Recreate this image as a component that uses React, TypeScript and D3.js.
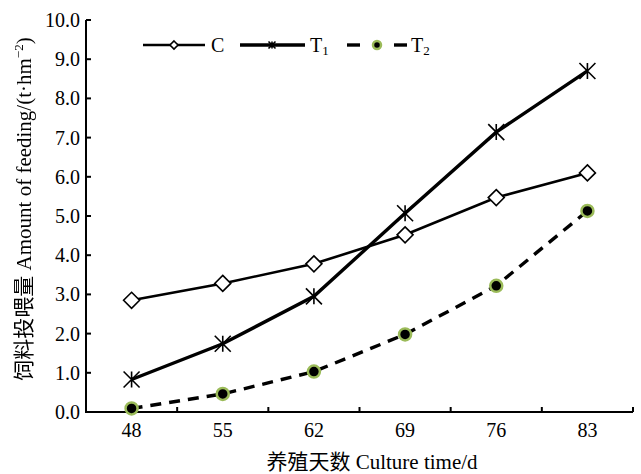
import * as d3 from "d3";

const days = ["48", "55", "62", "69", "76", "83"];
const cValues = [2.85, 3.28, 3.78, 4.52, 5.47, 6.1];
const t1Values = [0.83, 1.74, 2.95, 5.07, 7.14, 8.7];
const t2Values = [0.09, 0.46, 1.03, 1.98, 3.22, 5.13];
const yTicks = [0, 1, 2, 3, 4, 5, 6, 7, 8, 9, 10];

const width = 641;
const height = 474;
const left = 86;
const right = 633;
const top = 20;
const bottom = 412;
const font = "'Liberation Serif', 'Times New Roman', serif";
const cjk = "'Liberation Serif', 'Noto Sans CJK SC', serif";

function Diamond({ x, y, r }: { x: number; y: number; r: number }) {
  return (
    <path
      d={`M${x},${y - r}L${x + r},${y}L${x},${y + r}L${x - r},${y}Z`}
      fill="white"
      stroke="black"
      strokeWidth={1.6}
    />
  );
}

function Star({ x, y, r }: { x: number; y: number; r: number }) {
  return (
    <path
      d={`M${x - r},${y - r}L${x + r},${y + r}M${x - r},${y + r}L${x + r},${y - r}M${x},${y - r}L${x},${y + r}`}
      stroke="black"
      strokeWidth={1.6}
      fill="none"
    />
  );
}

function Dot({ x, y, r }: { x: number; y: number; r: number }) {
  return <circle cx={x} cy={y} r={r} fill="black" stroke="#9bbb59" strokeWidth={2.5} />;
}

export default function App() {
  const x = d3.scaleBand<string>().domain(days).range([left, right]).padding(0);
  const cx = (d: string) => (x(d) ?? 0) + x.bandwidth() / 2;
  const y = d3.scaleLinear().domain([0, 10]).range([bottom, top]);

  const line = d3
    .line<number>()
    .x((_, i) => cx(days[i]))
    .y((v) => y(v));

  const boundaries = [...days.map((d) => x(d) ?? 0), right];

  return (
    <svg
      width={width}
      height={height}
      style={{ position: "fixed", left: 0, top: 0, background: "white" }}
      fontFamily={font}
    >
      <defs>
        <filter id="gray">
          <feColorMatrix type="saturate" values="0" />
        </filter>
      </defs>

      {/* axes */}
      <g stroke="black" strokeWidth={2} fill="none">
        <path d={`M${left},${top}V${bottom}H${right}`} strokeWidth={2} />
        {yTicks.map((t) => (
          <line key={t} x1={left} x2={left + 5} y1={y(t)} y2={y(t)} />
        ))}
        {boundaries.slice(1).map((b, i) => (
          <line key={i} x1={b} x2={b} y1={bottom} y2={bottom - 5} />
        ))}
      </g>
      <g fontSize={20} fill="black">
        {yTicks.map((t) => (
          <text key={t} x={left - 6} y={y(t)} dy="0.35em" textAnchor="end">
            {t.toFixed(1)}
          </text>
        ))}
        {days.map((d) => (
          <text key={d} x={cx(d)} y={bottom + 25} textAnchor="middle">
            {d}
          </text>
        ))}
      </g>

      {/* axis titles */}
      <text x={372} y={469} fontSize={21} textAnchor="middle" fontFamily={cjk}>
        养殖天数 Culture time/d
      </text>
      <g filter="url(#gray)">
        <text
          transform={`translate(31,209) rotate(-90)`}
          fontSize={21}
          textAnchor="middle"
          fontFamily={cjk}
          fill="black"
        >
          饲料投喂量 Amount of feeding/(t·hm
          <tspan fontSize={13} dy={-8}>
            −2
          </tspan>
          <tspan dy={8}>)</tspan>
        </text>
      </g>

      {/* series */}
      <path d={line(cValues) ?? ""} fill="none" stroke="black" strokeWidth={2.6} />
      <path d={line(t1Values) ?? ""} fill="none" stroke="black" strokeWidth={3.4} />
      <path
        d={line(t2Values) ?? ""}
        fill="none"
        stroke="black"
        strokeWidth={3.4}
        strokeDasharray="11,8"
      />
      {cValues.map((v, i) => (
        <Diamond key={i} x={cx(days[i])} y={y(v)} r={8} />
      ))}
      {t1Values.map((v, i) => (
        <Star key={i} x={cx(days[i])} y={y(v)} r={8} />
      ))}
      {t2Values.map((v, i) => (
        <Dot key={i} x={cx(days[i])} y={y(v)} r={6} />
      ))}

      {/* legend */}
      <g>
        <line x1={143} x2={205} y1={45} y2={45} stroke="black" strokeWidth={2.6} />
        <Diamond x={174} y={45} r={4} />
        <text x={211} y={52} fontSize={20}>C</text>
        <line x1={240} x2={305} y1={45} y2={45} stroke="black" strokeWidth={3.4} />
        <Star x={272} y={45} r={3.5} />
        <text x={310} y={52} fontSize={20}>
          T<tspan fontSize={13} dy={3}>1</tspan>
        </text>
        <line x1={347} x2={360} y1={45} y2={45} stroke="black" strokeWidth={3.4} />
        <Dot x={377} y={45} r={4} />
        <line x1={394} x2={407} y1={45} y2={45} stroke="black" strokeWidth={3.4} />
        <text x={411} y={52} fontSize={20}>
          T<tspan fontSize={13} dy={3}>2</tspan>
        </text>
      </g>
    </svg>
  );
}
